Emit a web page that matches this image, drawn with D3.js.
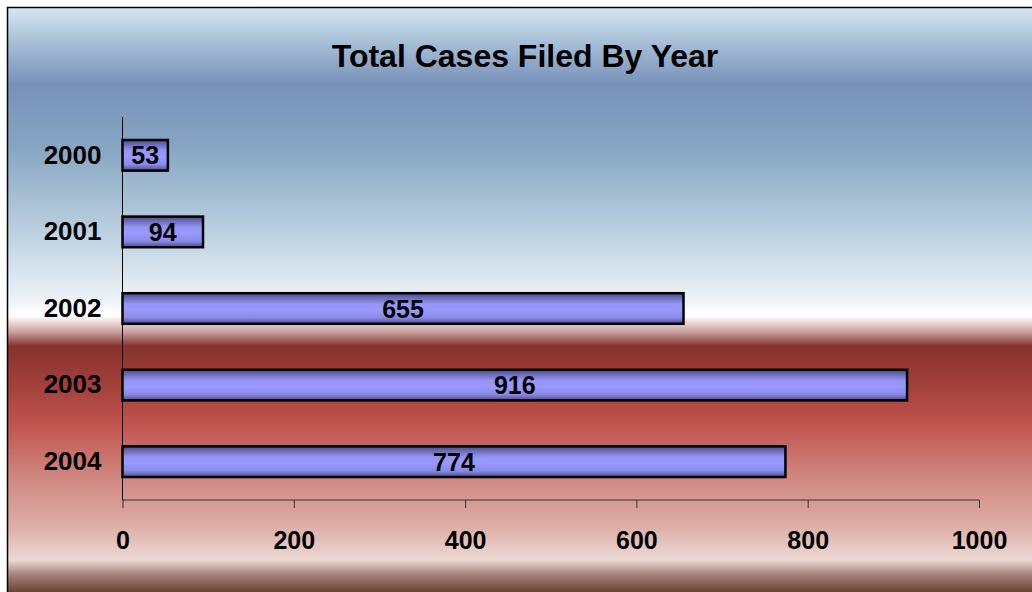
<!DOCTYPE html>
<html>
<head>
<meta charset="utf-8">
<script src="https://cdn.jsdelivr.net/npm/d3@7"></script>
<style>
  body { margin: 0; background: #fff; }
  svg text { font-family: "Liberation Sans", Arial, sans-serif; font-weight: bold; fill: #000; }
</style>
</head>
<body>
<div id="chart"></div>
<script>
// Data
var years = ["2000", "2001", "2002", "2003", "2004"];
var cases = [53, 94, 655, 916, 774];
var xTicks = [0, 200, 400, 600, 800, 1000];
var title = "Total Cases Filed By Year";

var svgWidth = 1032;
var svgHeight = 592;

// plot area
var margin = { top: 117, left: 122.5, right: 53, bottom: 92 };
var width = svgWidth - margin.left - margin.right;
var height = svgHeight - margin.top - margin.bottom;

var svg = d3.select("#chart")
    .append("svg")
    .attr("width", svgWidth)
    .attr("height", svgHeight);

var defs = svg.append("defs");

// background gradient (blue sky over red)
var bg = defs.append("linearGradient")
    .attr("id", "bg")
    .attr("gradientUnits", "userSpaceOnUse")
    .attr("x1", 0).attr("y1", 7).attr("x2", 0).attr("y2", 592);
[
  [7, "#d8e7f2"], [40, "#a9c2d8"], [85, "#7790b9"], [150, "#88a7c3"],
  [250, "#c7d9e6"], [300, "#eef3f7"], [316, "#ffffff"], [332, "#c9a09d"],
  [346, "#86322e"], [385, "#a2403b"], [425, "#c2544f"], [480, "#d08a83"],
  [525, "#ddaca6"], [560, "#ecd9d3"], [574, "#a8867e"], [592, "#6a4237"]
].forEach(function(s) {
    bg.append("stop").attr("offset", (s[0] - 7) / 585).attr("stop-color", s[1]);
});

// bar gradient
var barGrad = defs.append("linearGradient")
    .attr("id", "barGrad")
    .attr("x1", 0).attr("y1", 0).attr("x2", 0).attr("y2", 1);
[[0, "#4c4c8c"], [0.35, "#9595f5"], [0.55, "#9999ff"], [0.8, "#8a8ae8"], [1, "#4c4c8c"]]
  .forEach(function(s) {
    barGrad.append("stop").attr("offset", s[0]).attr("stop-color", s[1]);
  });

svg.append("rect")
    .attr("x", 7.5).attr("y", 7.5)
    .attr("width", svgWidth + 10).attr("height", svgHeight + 10)
    .attr("fill", "url(#bg)")
    .attr("stroke", "#000")
    .attr("stroke-width", 1.5);

svg.append("text")
    .attr("x", 525)
    .attr("y", 67)
    .attr("text-anchor", "middle")
    .style("font-size", "32px")
    .text(title);

var chartGroup = svg.append("g")
    .attr("transform", `translate(${margin.left}, ${margin.top})`);

var xScale = d3.scaleLinear()
    .domain([0, 1000])
    .range([0, width]);

var yScale = d3.scaleBand()
    .domain(years)
    .range([0, height])
    .paddingInner(0.6)
    .paddingOuter(0.3);

// x axis
var xAxis = d3.axisBottom(xScale)
    .tickValues(xTicks)
    .tickSize(8)
    .tickPadding(23)
    .tickFormat(d3.format("d"));

var xg = chartGroup.append("g")
    .attr("transform", `translate(0, ${height})`)
    .call(xAxis);
xg.select(".domain").attr("stroke", "#333").attr("d", `M0,0H${width}`);
xg.selectAll(".tick line").attr("stroke", "#333");
xg.selectAll(".tick text").style("font-size", "25px").attr("fill", "#000");

// y axis
var yAxis = d3.axisLeft(yScale).tickSize(0).tickPadding(21);
var yg = chartGroup.append("g").call(yAxis);
yg.select(".domain").attr("stroke", "#000").attr("d", `M0,0V${height}`);
yg.selectAll(".tick text").style("font-size", "26px").attr("fill", "#000");

// bars
chartGroup.selectAll(".bar")
    .data(years)
    .enter()
    .append("rect")
    .attr("class", "bar")
    .attr("x", 0)
    .attr("y", d => yScale(d))
    .attr("width", (d, i) => xScale(cases[i]))
    .attr("height", yScale.bandwidth())
    .attr("fill", "url(#barGrad)")
    .attr("stroke", "#000")
    .attr("stroke-width", 2.5);

// value labels
chartGroup.selectAll(".val")
    .data(years)
    .enter()
    .append("text")
    .attr("class", "val")
    .attr("x", (d, i) => xScale(cases[i]) / 2)
    .attr("y", d => yScale(d) + yScale.bandwidth() / 2)
    .attr("dy", "0.36em")
    .attr("text-anchor", "middle")
    .style("font-size", "25px")
    .text((d, i) => cases[i]);
</script>
</body>
</html>
